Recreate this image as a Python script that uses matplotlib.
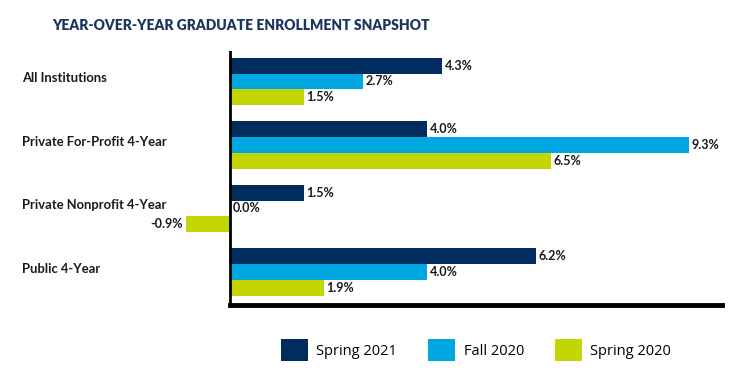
import matplotlib
matplotlib.use("Agg")
import matplotlib.pyplot as plt
import numpy as np
from matplotlib.transforms import blended_transform_factory
from matplotlib.patches import Patch

categories = ["All Institutions", "Private For-Profit 4-Year",
              "Private Nonprofit 4-Year", "Public 4-Year"]
series_names = ["Spring 2021", "Fall 2020", "Spring 2020"]
spring2021 = [4.3, 4.0, 1.5, 6.2]
fall2020 = [2.7, 9.3, 0.0, 4.0]
spring2020 = [1.5, 6.5, -0.9, 1.9]
colors = ["#002D5E", "#00A7E0", "#C4D600"]

W, H = 751, 391
fig = plt.figure(figsize=(W / 100, H / 100), dpi=100)
ax = fig.add_axes([0, 1 - 305 / H, 1, (305 - 51) / H])
ppu = 49.35
ax.set_xlim(-230 / ppu, (W - 230) / ppu)
ax.set_ylim(3.52, -0.48)
for s in ax.spines.values():
    s.set_visible(False)
ax.set_xticks([])
ax.set_yticks([])

y = np.arange(len(categories))
h = 0.25
all_series = [spring2021, fall2020, spring2020]
for i, (vals, c) in enumerate(zip(all_series, colors)):
    pos = y + (i - 1) * h
    ax.barh(pos, vals, height=h, color=c, label=series_names[i])
    for p, v in zip(pos, vals):
        if v < 0:
            ax.text(v - 0.06, p, f"{v:.1f}%", ha="right", va="center",
                    fontsize=9, color="#1a1a1a", family="Lato", fontweight="bold")
        else:
            ax.text(v + 0.05, p, f"{v:.1f}%", ha="left", va="center",
                    fontsize=9, color="#1a1a1a", family="Lato", fontweight="bold")

# axis lines
ax.axvline(0, color="black", lw=2)
ax.plot([0, (722 - 230) / ppu], [3.52, 3.52], color="black", lw=3.5, clip_on=False)

tr = blended_transform_factory(fig.transFigure, ax.transData)
for yi, cat in zip(y, categories):
    ax.text(22 / W, yi - 0.05, cat, transform=tr, ha="left", va="center",
            fontsize=9.4, fontweight="bold", color="#1a1a1a", family="Lato")

fig.text(241 / W, 1 - 26 / H, "YEAR-OVER-YEAR GRADUATE ENROLLMENT SNAPSHOT",
         ha="center", va="center", fontsize=10, fontweight="heavy",
         color="#1B355E", family="Lato")

handles = [Patch(facecolor=c, edgecolor="none") for c in colors]
leg = fig.legend(handles, series_names, loc="center", ncol=3,
                 bbox_to_anchor=(476 / W, 1 - 350 / H), frameon=False,
                 prop={"family": "Open Sans", "size": 10.5},
                 handlelength=1.85, handleheight=1.85, handletextpad=0.6,
                 columnspacing=2.1, borderpad=0)

fig.savefig("out.png", dpi=100)
